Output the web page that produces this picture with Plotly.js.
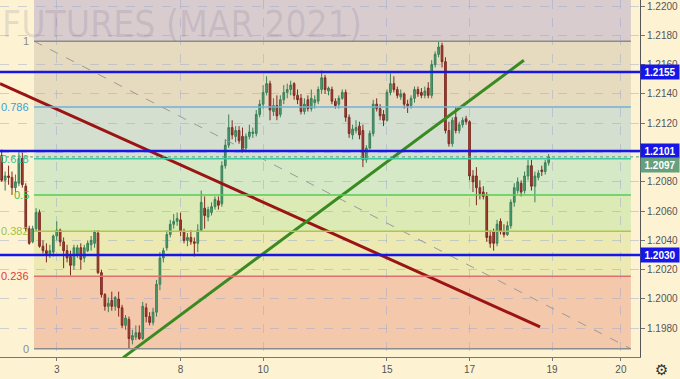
<!DOCTYPE html>
<html><head><meta charset="utf-8">
<script src="https://cdn.plot.ly/plotly-3.0.1.min.js"></script>
<style>html,body{margin:0;padding:0;background:#fdf3d3;}#chart{width:680px;height:379px;}</style>
</head><body><div id="chart"></div>
<script>
// ---- data (EUR/USD futures, 2h candles) ----
const opens = [1.2098,1.2081,1.2084,1.2083,1.2076,1.2079,1.2096,1.2077,1.2048,1.2039,
1.2048,1.2059,1.2036,1.2033,1.2031,1.2032,1.2043,1.2047,1.2039,1.2033,
1.2029,1.2023,1.2030,1.2035,1.2028,1.2033,1.2037,1.2038,1.2045,1.2018,
1.2003,1.1995,1.1999,1.1995,1.2000,1.1994,1.1982,1.1986,1.1972,1.1974,
1.1977,1.1973,1.1994,1.1988,1.1984,1.1991,1.2010,1.2028,1.2035,1.2044,
1.2051,1.2053,1.2054,1.2046,1.2040,1.2042,1.2039,1.2038,1.2047,1.2062,
1.2056,1.2059,1.2063,1.2067,1.2065,1.2091,1.2105,1.2117,1.2111,1.2115,
1.2111,1.2103,1.2111,1.2113,1.2113,1.2126,1.2133,1.2141,1.2147,1.2128,
1.2132,1.2126,1.2136,1.2141,1.2143,1.2147,1.2139,1.2137,1.2128,1.2136,
1.2130,1.2134,1.2135,1.2143,1.2151,1.2142,1.2143,1.2135,1.2133,1.2137,
1.2141,1.2124,1.2112,1.2115,1.2118,1.2115,1.2095,1.2103,1.2113,1.2133,
1.2130,1.2126,1.2122,1.2141,1.2147,1.2143,1.2138,1.2140,1.2133,1.2132,
1.2137,1.2143,1.2141,1.2139,1.2144,1.2139,1.2160,1.2167,1.2173,1.2162,
1.2115,1.2106,1.2124,1.2115,1.2119,1.2123,1.2121,1.2084,1.2084,1.2076,
1.2073,1.2070,1.2043,1.2046,1.2038,1.2053,1.2046,1.2044,1.2050,1.2066,
1.2074,1.2079,1.2074,1.2084,1.2091,1.2077,1.2083,1.2088,1.2087,1.2093];
const highs = [1.2102,1.2087,1.2091,1.2087,1.2085,1.2100,1.2100,1.2079,1.2050,1.2050,
1.2062,1.2061,1.2040,1.2038,1.2037,1.2044,1.2053,1.2048,1.2042,1.2037,
1.2033,1.2037,1.2037,1.2038,1.2037,1.2040,1.2043,1.2047,1.2047,1.2020,
1.2004,1.2001,1.2005,1.2002,1.2005,1.1996,1.1989,1.1988,1.1979,1.1982,
1.1982,1.1998,1.1997,1.1991,1.1994,1.2013,1.2032,1.2035,1.2047,1.2054,
1.2058,1.2059,1.2059,1.2048,1.2045,1.2047,1.2042,1.2051,1.2074,1.2070,
1.2063,1.2066,1.2070,1.2070,1.2094,1.2109,1.2126,1.2122,1.2118,1.2118,
1.2117,1.2113,1.2119,1.2117,1.2129,1.2136,1.2146,1.2152,1.2149,1.2137,
1.2139,1.2139,1.2146,1.2147,1.2149,1.2148,1.2143,1.2140,1.2137,1.2139,
1.2143,1.2139,1.2145,1.2156,1.2153,1.2145,1.2145,1.2137,1.2139,1.2143,
1.2143,1.2126,1.2119,1.2122,1.2121,1.2119,1.2105,1.2115,1.2136,1.2137,
1.2133,1.2129,1.2143,1.2154,1.2152,1.2145,1.2143,1.2141,1.2136,1.2139,
1.2145,1.2145,1.2144,1.2145,1.2148,1.2163,1.2169,1.2176,1.2175,1.2165,
1.2121,1.2124,1.2131,1.2121,1.2124,1.2125,1.2122,1.2088,1.2090,1.2081,
1.2077,1.2073,1.2047,1.2048,1.2054,1.2055,1.2051,1.2053,1.2068,1.2079,
1.2083,1.2081,1.2087,1.2095,1.2095,1.2087,1.2088,1.2091,1.2095,1.2099];
const lows = [1.2080,1.2074,1.2078,1.2071,1.2073,1.2077,1.2076,1.2046,1.2037,1.2038,
1.2046,1.2035,1.2031,1.2025,1.2028,1.2029,1.2040,1.2036,1.2021,1.2025,
1.2016,1.2020,1.2028,1.2020,1.2025,1.2032,1.2033,1.2035,1.2017,1.2001,
1.1992,1.1991,1.1992,1.1992,1.1988,1.1980,1.1979,1.1966,1.1969,1.1972,
1.1972,1.1972,1.1984,1.1982,1.1982,1.1988,1.2006,1.2025,1.2033,1.2042,
1.2048,1.2050,1.2043,1.2038,1.2036,1.2037,1.2029,1.2032,1.2046,1.2048,
1.2053,1.2057,1.2061,1.2061,1.2063,1.2089,1.2103,1.2109,1.2107,1.2106,
1.2100,1.2100,1.2109,1.2110,1.2111,1.2124,1.2130,1.2139,1.2122,1.2125,
1.2122,1.2124,1.2133,1.2137,1.2139,1.2136,1.2133,1.2126,1.2126,1.2128,
1.2128,1.2130,1.2133,1.2140,1.2140,1.2139,1.2133,1.2130,1.2130,1.2136,
1.2121,1.2110,1.2109,1.2113,1.2109,1.2090,1.2093,1.2102,1.2111,1.2128,
1.2122,1.2118,1.2121,1.2139,1.2141,1.2137,1.2136,1.2130,1.2127,1.2130,
1.2134,1.2138,1.2137,1.2137,1.2137,1.2137,1.2158,1.2165,1.2158,1.2113,
1.2104,1.2104,1.2113,1.2113,1.2117,1.2119,1.2081,1.2073,1.2064,1.2068,
1.2068,1.2039,1.2035,1.2033,1.2036,1.2044,1.2042,1.2043,1.2048,1.2063,
1.2072,1.2070,1.2072,1.2081,1.2074,1.2066,1.2081,1.2084,1.2085,1.2091];
const closes = [1.2081,1.2084,1.2083,1.2076,1.2080,1.2096,1.2078,1.2048,1.2038,1.2048,
1.2059,1.2036,1.2033,1.2031,1.2033,1.2043,1.2047,1.2039,1.2033,1.2028,
1.2023,1.2035,1.2035,1.2027,1.2035,1.2038,1.2040,1.2046,1.2018,1.2003,
1.1995,1.1997,1.1995,1.2001,1.1994,1.1982,1.1987,1.1973,1.1975,1.1977,
1.1973,1.1995,1.1988,1.1984,1.1991,1.2010,1.2028,1.2033,1.2044,1.2051,
1.2053,1.2055,1.2046,1.2040,1.2042,1.2039,1.2038,1.2047,1.2066,1.2057,
1.2061,1.2063,1.2068,1.2064,1.2091,1.2105,1.2117,1.2112,1.2115,1.2108,
1.2102,1.2111,1.2114,1.2114,1.2126,1.2133,1.2141,1.2147,1.2129,1.2132,
1.2125,1.2136,1.2141,1.2143,1.2146,1.2139,1.2136,1.2128,1.2133,1.2130,
1.2137,1.2136,1.2143,1.2151,1.2143,1.2144,1.2135,1.2132,1.2137,1.2141,
1.2124,1.2113,1.2116,1.2117,1.2112,1.2095,1.2103,1.2113,1.2133,1.2130,
1.2125,1.2122,1.2141,1.2147,1.2143,1.2139,1.2140,1.2133,1.2132,1.2137,
1.2143,1.2140,1.2139,1.2142,1.2139,1.2160,1.2167,1.2172,1.2162,1.2115,
1.2106,1.2122,1.2115,1.2119,1.2122,1.2121,1.2084,1.2080,1.2076,1.2072,
1.2070,1.2042,1.2038,1.2038,1.2051,1.2046,1.2044,1.2050,1.2066,1.2076,
1.2080,1.2073,1.2084,1.2091,1.2077,1.2084,1.2086,1.2087,1.2093,1.2097];

const dayTickIdx  = [16, 52, 76, 112, 136, 160, 180];
const dayTickText = ['3', '8', '10', '15', '17', '19', '20'];

const fibLow = 1.1966, fibHigh = 1.2176;
const fibRatios = [0, 0.236, 0.382, 0.5, 0.618, 0.786, 1, 1.618];
const fibLabels = ['0', '0.236', '0.382', '0.5', '0.618', '0.786', '1', ''];
const fibX = [9.4, 182.9];

const keyLevels = [1.2155, 1.2101, 1.2030];
const lastPrice = 1.2097;

const redTrendX = [-0.5, 156.5],  redTrendY = [1.2147, 1.1981];
const greenTrendX = [35.3, 151.8], greenTrendY = [1.1960, 1.2163];

const titleText = 'FUTURES (MAR 2021)';

// ---- styles ----
const fibLineColors = ['#8c8c8c','#e07070','#aac84e','#55cc55','#3cc8a0','#6fb2d8','#8c8c8c','rgba(0,0,0,0)'];
const fibLabelColors = ['#8c8c8c','#e03a3a','#9fc43a','#3cc43c','#2cc49a','#3a9fd8','#8c8c8c','#8c8c8c'];
const fibFillColors = ['#f4c8ab','#ece9b3','#dceab6','#d5e9c6','#d5dfd0','#e7dbbf','#d8cccf'];
const bg = '#fdf3d3';

const idx = opens.map((_, i) => i);
const fibPrice = r => fibLow + (fibHigh - fibLow) * r;

const traces = [];
traces.push({
  type: 'candlestick', x: idx, open: opens, high: highs, low: lows, close: closes,
  increasing: {line: {color: '#3a7f58', width: 1}, fillcolor: '#4f9e72'},
  decreasing: {line: {color: '#7d2a22', width: 1}, fillcolor: '#a5402f'},
  whiskerwidth: 0, hoverinfo: 'skip', showlegend: false
});
traces.push({type:'scatter', mode:'lines', x: fibX, y:[fibPrice(1), fibPrice(0)],
  line:{color:'#9a9a9a', width:1, dash:'dash'}, hoverinfo:'skip', showlegend:false});
traces.push({type:'scatter', mode:'lines', x: redTrendX, y: redTrendY,
  line:{color:'#9b1414', width:3}, hoverinfo:'skip', showlegend:false});
traces.push({type:'scatter', mode:'lines', x: greenTrendX, y: greenTrendY,
  line:{color:'#3a8a22', width:3}, hoverinfo:'skip', showlegend:false});

const shapes = [];
for (let k = 0; k < fibRatios.length - 1; k++) {
  shapes.push({type:'rect', xref:'x', yref:'y', x0: fibX[0], x1: fibX[1],
    y0: fibPrice(fibRatios[k]), y1: fibPrice(fibRatios[k+1]),
    fillcolor: fibFillColors[k], line:{width:0}, layer:'below'});
}
fibRatios.forEach((r, k) => {
  shapes.push({type:'line', xref:'x', yref:'y', x0: fibX[0], x1: fibX[1],
    y0: fibPrice(r), y1: fibPrice(r), line:{color: fibLineColors[k], width: 1.5}, layer:'above'});
});
shapes.push({type:'line', xref:'paper', yref:'y', x0:0, x1:1, y0:lastPrice, y1:lastPrice,
  line:{color:'#5f9a78', width:1, dash:'dot'}});
keyLevels.forEach(v => {
  shapes.push({type:'line', xref:'paper', yref:'y', x0:0, x1:1, y0:v, y1:v,
    line:{color:'#1616e6', width:2.5}});
});

const annotations = [];
annotations.push({xref:'paper', yref:'paper', x:0, y:0.93, xanchor:'left', yanchor:'middle',
  text: titleText, showarrow:false,
  font:{family:'Liberation Sans Narrow, DejaVu Sans Condensed, Liberation Sans, sans-serif', size:37, color:'rgba(110,95,130,0.16)'}});
fibRatios.forEach((r, k) => {
  if (!fibLabels[k]) return;
  annotations.push({xref:'x', yref:'y', x: fibX[0], y: fibPrice(r), xanchor:'right', yanchor:'middle',
    xshift:-3, text: fibLabels[k], showarrow:false,
    font:{family:'Liberation Sans, Arial, sans-serif', size:11, color: fibLabelColors[k]}});
});
keyLevels.forEach(v => {
  annotations.push({xref:'paper', yref:'y', x:1, y:v, xanchor:'left', yanchor:'middle',
    text:'<b>' + v.toFixed(4) + '</b>', showarrow:false, bgcolor:'#1616e6',
    width:36, height:12, borderpad:1,
    font:{family:'Liberation Sans, Arial, sans-serif', size:10, color:'#ffffff'}});
});
annotations.push({xref:'paper', yref:'y', x:1, y:lastPrice, yshift:-8, xanchor:'left', yanchor:'middle',
  text:'<b>' + lastPrice.toFixed(4) + '</b>', showarrow:false, bgcolor:'#66a07f',
  width:36, height:12, borderpad:1,
  font:{family:'Liberation Sans, Arial, sans-serif', size:10, color:'#ffffff'}});
annotations.push({xref:'paper', yref:'paper', x:1.034, y:-0.037, xanchor:'center', yanchor:'middle',
  text:'\u2699', showarrow:false, font:{family:'DejaVu Sans', size:15, color:'#333'}});

const layout = {
  width: 680, height: 379,
  margin: {l:0, r:40, t:0, b:22, pad:0},
  paper_bgcolor: bg, plot_bgcolor: bg,
  showlegend: false,
  xaxis: {
    range: [-0.49, 185.55], rangeslider: {visible:false},
    tickmode:'array', tickvals: dayTickIdx, ticktext: dayTickText,
    showgrid: true, gridcolor: 'rgba(150,165,205,0.45)', griddash:'dash', gridwidth:1,
    zeroline:false, showline:true, linecolor:'#777', linewidth:1,
    ticks:'outside', ticklen:3, tickcolor:'#777',
    tickfont:{family:'Liberation Sans, Arial, sans-serif', size:10, color:'#555'}, fixedrange:true
  },
  yaxis: {
    range: [1.19604, 1.22041], side:'right',
    tickmode:'linear', tick0: 1.198, dtick: 0.002, tickformat: '.4f',
    showgrid: true, gridcolor: 'rgba(150,165,205,0.45)', griddash:'dash', gridwidth:1,
    zeroline:false, showline:true, linecolor:'#555', linewidth:1,
    ticks:'outside', ticklen:4, tickcolor:'#777',
    tickfont:{family:'Liberation Sans, Arial, sans-serif', size:10, color:'#555'}, fixedrange:true
  },
  shapes: shapes, annotations: annotations
};
Plotly.newPlot('chart', traces, layout, {displayModeBar:false, staticPlot:true});
</script></body></html>
